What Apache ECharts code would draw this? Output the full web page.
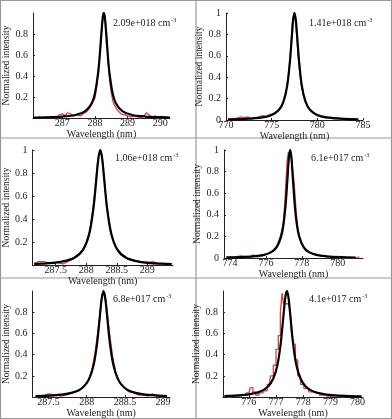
<!DOCTYPE html>
<html lang="">
	<head>
		<meta charset="utf-8">
		<title>Normalized line profiles</title>
		<style>
			html, body { margin: 0; padding: 0; background: #fff; }
		</style>
	</head>
	<body>
		<div id="main" style="width: 392px; height:419px;"></div>

		<script src="https://cdn.jsdelivr.net/npm/echarts@6/dist/echarts.min.js"></script>
		<script>
			// electron density written in each panel
			var densityLabels = ['2.09e+018', '1.41e+018', '1.06e+018', '6.1e+017', '6.8e+017', '4.1e+017'];

			// wavelength tick labels and axis spans (nm)
			var xTicks = [
				[287, 288, 289, 290],
				[770, 775, 780, 785],
				[287.5, 288, 288.5, 289],
				[774, 776, 778, 780],
				[287.5, 288, 288.5, 289],
				[776, 777, 778, 779, 780]
			];
			var xRanges = [
				[286.1, 290.3],
				[770, 785],
				[287.12, 289.42],
				[773.67, 781.4],
				[287.29, 289.09],
				[775.05, 780.2]
			];
			var yTicks = [
				[0.2, 0.4, 0.6, 0.8],
				[0, 0.2, 0.4, 0.6, 0.8, 1],
				[0.2, 0.4, 0.6, 0.8, 1],
				[0, 0.2, 0.4, 0.6, 0.8, 1],
				[0.2, 0.4, 0.6, 0.8],
				[0.2, 0.4, 0.6, 0.8]
			];

			// measured profiles (red) and fitted profiles (black), [wavelength, intensity]
			var meas1 = [[286.2,0],[286.3,0.01],[286.4,0],[286.5,0.01],[286.6,0],[286.7,0.01],[286.8,0],[286.9,0.03],[287.0,0.04],[287.1,0.02],[287.15,0.05],[287.25,0.04],[287.35,0.02],[287.45,0.03],[287.55,0.02],[287.65,0.04],[287.75,0.06],[287.85,0.1],[287.95,0.16],[288.0,0.19],[288.05,0.3],[288.1,0.46],[288.15,0.6],[288.2,0.8],[288.25,0.97],[288.28,1.0],[288.32,0.93],[288.36,0.78],[288.4,0.56],[288.45,0.36],[288.5,0.24],[288.55,0.16],[288.6,0.12],[288.7,0.07],[288.8,0.04],[288.9,0.03],[289.0,0.02],[289.1,0.01],[289.2,0.02],[289.3,0.01],[289.4,0],[289.5,0.02],[289.58,0.05],[289.65,0.03],[289.75,0.01],[289.85,0.02],[289.95,0],[290.05,0.01],[290.15,0]];
			var fit1 = [[286.1,0.005],[286.5,0.007],[287.0,0.014],[287.4,0.029],[287.7,0.065],[287.9,0.141],[288.0,0.236],[288.1,0.438],[288.15,0.61],[288.2,0.821],[288.24,0.962],[288.27,1],[288.3,0.962],[288.34,0.821],[288.39,0.61],[288.44,0.438],[288.54,0.236],[288.64,0.141],[288.84,0.065],[289.14,0.029],[289.54,0.014],[290.0,0.0075],[290.3,0.005]];

			var meas2 = [[770.3,0],[770.8,0.01],[771.3,0.02],[771.6,0.03],[772.0,0.02],[772.4,0.03],[772.8,0.01],[773.2,0.02],[773.6,0.03],[774.0,0.04],[774.4,0.03],[774.8,0.05],[775.2,0.06],[775.6,0.08],[776.0,0.11],[776.3,0.17],[776.6,0.28],[776.85,0.42],[777.05,0.62],[777.2,0.82],[777.3,0.95],[777.45,1.0],[777.6,0.94],[777.75,0.78],[777.9,0.6],[778.1,0.42],[778.3,0.3],[778.6,0.19],[779.0,0.11],[779.5,0.07],[780.0,0.04],[780.5,0.03],[780.9,0.02],[781.3,0.02],[781.8,0.01],[782.3,0.01],[782.8,0],[783.3,0.01],[783.8,0.01],[784.3,0]];
			var fit2 = [[770.2,0.0053],[772.0,0.0099],[774.0,0.024],[775.0,0.046],[775.8,0.095],[776.3,0.174],[776.7,0.32],[777.0,0.548],[777.2,0.77],[777.35,0.93],[777.5,1],[777.65,0.93],[777.8,0.77],[778.0,0.548],[778.3,0.32],[778.7,0.174],[779.2,0.095],[780.0,0.046],[781.0,0.024],[783.0,0.0099],[784.5,0.0061]];

			var meas3 = [[287.15,0.01],[287.22,0.03],[287.3,0.03],[287.38,0.02],[287.46,0.02],[287.54,0.02],[287.62,0.01],[287.7,0.03],[287.78,0.05],[287.86,0.08],[287.94,0.13],[288.0,0.2],[288.06,0.3],[288.1,0.45],[288.14,0.63],[288.17,0.82],[288.2,0.94],[288.23,0.99],[288.26,0.96],[288.29,0.8],[288.32,0.6],[288.36,0.42],[288.4,0.3],[288.45,0.2],[288.5,0.14],[288.56,0.09],[288.62,0.07],[288.7,0.05],[288.78,0.04],[288.86,0.03],[288.94,0.02],[289.02,0.02],[289.08,0.03],[289.14,0.02],[289.22,0.01],[289.3,0.01]];
			var fit3 = [[287.15,0.0103],[287.4,0.017],[287.6,0.03],[287.8,0.061],[287.95,0.134],[288.05,0.272],[288.12,0.5],[288.17,0.77],[288.2,0.93],[288.23,1],[288.26,0.93],[288.29,0.77],[288.34,0.5],[288.41,0.272],[288.51,0.134],[288.66,0.061],[288.86,0.03],[289.06,0.017],[289.3,0.0104],[289.4,0.0087]];

			var meas4 = [[774.0,0],[774.3,0.01],[774.6,0.02],[774.9,0.01],[775.1,0.01],[775.3,0.03],[775.5,0.01],[775.8,0.02],[776.1,0.04],[776.4,0.07],[776.6,0.11],[776.8,0.2],[776.95,0.3],[777.05,0.5],[777.12,0.72],[777.18,0.9],[777.25,0.98],[777.3,0.95],[777.35,1.0],[777.42,0.92],[777.5,0.8],[777.58,0.68],[777.66,0.48],[777.75,0.3],[777.85,0.2],[778.0,0.13],[778.2,0.07],[778.4,0.05],[778.7,0.04],[779.0,0.02],[779.4,0.01],[779.8,0.01],[780.2,0],[780.6,0],[781.0,0],[781.2,0.01]];
			var fit4 = [[773.8,0.0049],[774.5,0.0076],[775.3,0.0147],[775.9,0.029],[776.3,0.054],[776.6,0.1],[776.85,0.2],[777.0,0.338],[777.1,0.5],[777.2,0.735],[777.28,0.93],[777.35,1],[777.42,0.93],[777.5,0.735],[777.6,0.5],[777.7,0.338],[777.85,0.2],[778.1,0.1],[778.4,0.054],[778.8,0.029],[779.4,0.0147],[780.2,0.0076],[781.0,0.0047]];

			var meas5 = [[287.33,0],[287.42,0.01],[287.5,0.03],[287.58,0.02],[287.66,0.01],[287.74,0.02],[287.82,0.04],[287.9,0.06],[287.96,0.1],[288.02,0.16],[288.07,0.26],[288.11,0.42],[288.15,0.64],[288.18,0.82],[288.2,0.96],[288.22,0.99],[288.24,0.97],[288.27,0.8],[288.3,0.6],[288.34,0.38],[288.38,0.24],[288.43,0.14],[288.49,0.09],[288.55,0.05],[288.61,0.04],[288.67,0.02],[288.74,0.02],[288.8,0.01],[288.86,0.03],[288.92,0.01],[289.0,0]];
			var fit5 = [[287.33,0.009],[287.5,0.0137],[287.7,0.026],[287.85,0.05],[287.95,0.09],[288.03,0.167],[288.09,0.3],[288.135,0.5],[288.17,0.743],[288.195,0.92],[288.22,1],[288.245,0.92],[288.27,0.743],[288.305,0.5],[288.35,0.3],[288.41,0.167],[288.49,0.09],[288.59,0.05],[288.74,0.026],[288.94,0.0137],[289.05,0.0104]];

			var meas6 = [[775.2,0],[775.4,0.01],[775.6,0.01],[775.8,0.02],[776.0,0.04],[776.1,0.09],[776.2,0.05],[776.3,0.02],[776.45,0.04],[776.6,0.06],[776.75,0.12],[776.85,0.2],[776.95,0.3],[777.05,0.45],[777.12,0.58],[777.2,0.8],[777.25,0.98],[777.3,0.88],[777.4,0.88],[777.5,0.88],[777.55,0.82],[777.6,0.6],[777.68,0.5],[777.75,0.35],[777.85,0.2],[777.95,0.12],[778.1,0.08],[778.3,0.05],[778.5,0.04],[778.7,0.02],[778.9,0.01],[779.2,0.01],[779.5,0]];
			var fit6 = [[775.1,0.0099],[775.6,0.016],[776.0,0.026],[776.4,0.05],[776.7,0.097],[776.9,0.175],[777.05,0.3],[777.17,0.5],[777.27,0.758],[777.34,0.936],[777.4,1],[777.46,0.936],[777.53,0.758],[777.63,0.5],[777.75,0.3],[777.9,0.175],[778.1,0.097],[778.4,0.05],[778.8,0.026],[779.2,0.016],[779.7,0.0099],[780.15,0.0069]];

			var measured = [meas1, meas2, meas3, meas4, meas5, meas6];
			var fitted = [fit1, fit2, fit3, fit4, fit5, fit6];

			// plot boxes in pixels: left, top, width, height
			var boxes = [
				[33, 13, 137, 105],
				[226, 13, 137, 107],
				[28, 150, 145, 115],
				[224, 150, 139, 108],
				[28, 291, 142, 110],
				[223, 291, 140, 110]
			];
			var notePos = [[113, 17], [309, 17], [115, 152], [311, 152], [113, 293], [309, 293]];

			var serif = 'Liberation Serif';
			var myChart = echarts.init(document.getElementById('main'));

			var grids = [], xAxes = [], yAxes = [], series = [], titles = [];
			for (var i = 0; i < 6; i++) {
				var b = boxes[i];
				grids.push({ left: b[0], top: b[1], width: b[2], height: b[3], containLabel: false });
				xAxes.push({
					type: 'value', gridIndex: i,
					min: xRanges[i][0], max: xRanges[i][1],
					name: 'Wavelength (nm)', nameLocation: 'middle', nameGap: 9,
					nameTextStyle: { fontFamily: serif, fontSize: 10, color: '#222' },
					axisLine: { lineStyle: { color: '#222', width: 1 } },
					axisTick: { inside: true, length: 2, customValues: xTicks[i], lineStyle: { color: '#222' } },
					axisLabel: { customValues: xTicks[i], margin: 0, fontFamily: serif, fontSize: 10, color: '#222' },
					splitLine: { show: false }
				});
				yAxes.push({
					type: 'value', gridIndex: i, min: 0, max: 1,
					name: 'Normalized intensity', nameLocation: 'middle', nameGap: 18,
					nameTextStyle: { fontFamily: serif, fontSize: 9.5, color: '#222' },
					axisLine: { show: true, lineStyle: { color: '#222', width: 1 } },
					axisTick: { show: true, inside: true, length: 2, customValues: yTicks[i], lineStyle: { color: '#222' } },
					axisLabel: { customValues: yTicks[i], margin: 5, fontFamily: serif, fontSize: 10, color: '#222' },
					splitLine: { show: false }
				});
				series.push({
					type: 'line', xAxisIndex: i, yAxisIndex: i,
					data: measured[i], showSymbol: false, silent: true,
					step: i === 5 ? 'middle' : false,
					lineStyle: { color: '#dd4040', width: 1.3 }
				});
				series.push({
					type: 'line', xAxisIndex: i, yAxisIndex: i,
					data: fitted[i], showSymbol: false, silent: true, smooth: 0.3,
					lineStyle: { color: '#000', width: 2.2 }
				});
				titles.push({
					text: densityLabels[i] + ' cm{sup|-3}',
					left: notePos[i][0], top: notePos[i][1], padding: 0,
					textStyle: {
						fontFamily: serif, fontSize: 10, fontWeight: 'normal', color: '#222',
						rich: { sup: { fontFamily: serif, fontSize: 6, color: '#222', padding: [0, 0, 6, 1] } }
					}
				});
			}

			var borderStyle = { stroke: '#999', lineWidth: 1.2, fill: null };
			option = {
				animation: false,
				title: titles,
				grid: grids,
				xAxis: xAxes,
				yAxis: yAxes,
				series: series,
				graphic: [
					{ type: 'rect', shape: { x: 0.5, y: 0.5, width: 391, height: 418 }, style: borderStyle },
					{ type: 'line', shape: { x1: 196, y1: 0, x2: 196, y2: 419 }, style: borderStyle },
					{ type: 'line', shape: { x1: 0, y1: 138, x2: 392, y2: 138 }, style: borderStyle },
					{ type: 'line', shape: { x1: 0, y1: 278, x2: 392, y2: 278 }, style: borderStyle }
				]
			};

			myChart.setOption(option);
		</script>
	</body>
</html>
